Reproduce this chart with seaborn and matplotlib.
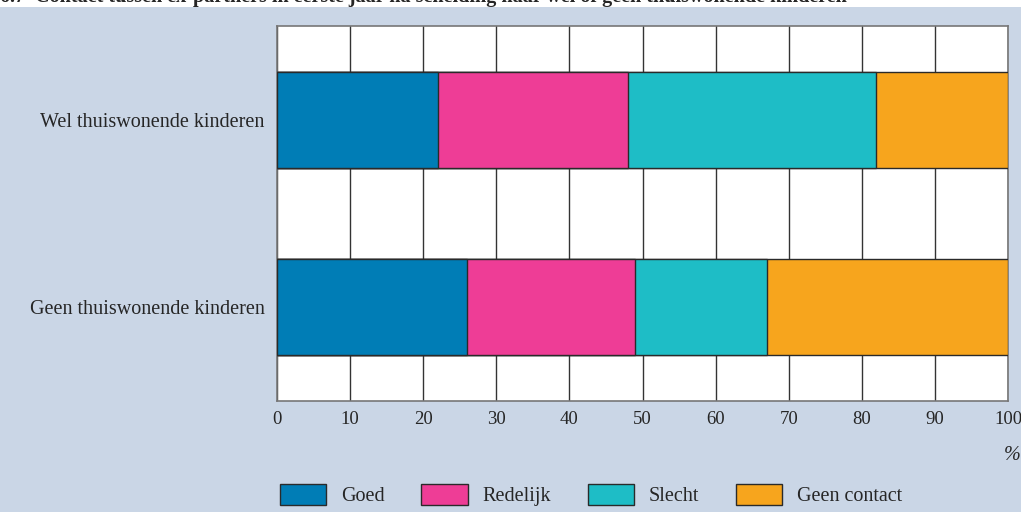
import numpy as np
import pandas as pd
import matplotlib.pyplot as plt
import seaborn as sns
from matplotlib.patches import Rectangle, Patch

groups = ['Wel thuiswonende kinderen', 'Geen thuiswonende kinderen']
categories = ['Goed', 'Redelijk', 'Slecht', 'Geen contact']
goed = [22, 26]
redelijk = [26, 23]
slecht = [34, 18]
geen_contact = [18, 33]
colors = ['#007db6', '#ee3d96', '#1ebdc6', '#f7a51d']
ticks = list(range(0, 101, 10))

sns.set_style('white')
plt.rcParams['font.family'] = ['Liberation Serif', 'DejaVu Serif']
fs = 14.5

# cumulative totals so the bars can be drawn back to front (stacked look)
values = np.array([goed, redelijk, slecht, geen_contact])
cum = np.cumsum(values, axis=0)

fig = plt.figure(figsize=(10.21, 5.12), dpi=100, facecolor='white')
fig.patches.append(Rectangle((0, 0), 1, 1 - 7 / 512, transform=fig.transFigure,
                             facecolor='#cad6e6', edgecolor='none', zorder=-10))
ax = fig.add_axes([277 / 1021, 1 - 401 / 512, 731 / 1021, 375 / 512])
ax.set_facecolor('white')

for i in range(len(categories) - 1, -1, -1):
    df = pd.DataFrame({'groep': groups, 'waarde': cum[i]})
    sns.barplot(data=df, y='groep', x='waarde', orient='h', color=colors[i],
                saturation=1, width=0.51, edgecolor='#2a2a2a', linewidth=1,
                ax=ax, zorder=3)

ax.set_xlim(0, 100)
ax.set_ylim(1.5, -0.5)
ax.set_xticks(ticks)
ax.set_xticklabels([str(t) for t in ticks], fontsize=13.5)
ax.tick_params(axis='x', length=0, pad=7)
ax.tick_params(axis='y', length=0, pad=9, labelsize=fs)
ax.set_xlabel('')
ax.set_ylabel('')
for t in ticks:
    ax.axvline(t, color='#333333', lw=1, zorder=1)
for s in ax.spines.values():
    s.set_color('#777777')
    s.set_linewidth(1.2)
    s.set_visible(True)

fig.text(1012 / 1021, 1 - 456 / 512, '%', fontsize=fs, style='italic',
         ha='center', va='center')

handles = [Patch(facecolor=c, edgecolor='#2a2a2a', linewidth=1) for c in colors]
fig.legend(handles, categories, ncol=4, frameon=False, fontsize=fs,
           loc='center left', bbox_to_anchor=(262 / 1021, 1 - 495 / 512),
           handlelength=2.3, handleheight=1.25, handletextpad=0.75,
           columnspacing=1.8)

fig.text(0.0, 1 - 2 / 512,
         '6.7  Contact tussen ex-partners in eerste jaar na scheiding naar wel of geen thuiswonende kinderen',
         fontsize=fs, fontweight='bold', ha='left', va='baseline')

fig.savefig('out.png', dpi=100, facecolor=fig.get_facecolor())
